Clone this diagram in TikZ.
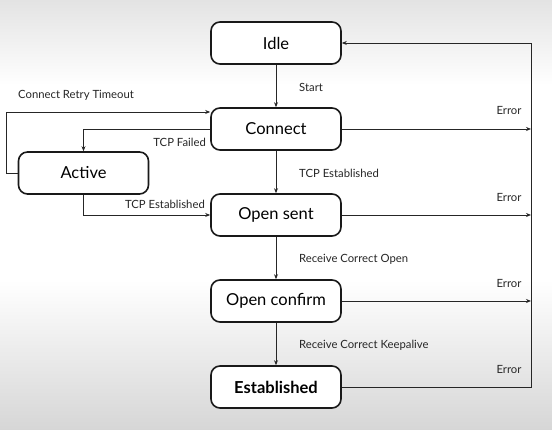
\documentclass[tikz,border=0pt]{standalone}
\usepackage{fontspec}
\setmainfont{Lato}
\usetikzlibrary{arrows.meta}
\begin{document}
\begin{tikzpicture}[x=1pt,y=1pt,
  state/.style={draw=black!90, line width=1.6pt, rounded corners=9pt, fill=white,
    minimum width=130pt, minimum height=42pt, inner sep=0pt, font=\fontsize{16.5}{19}\selectfont},
  conn/.style={draw=black!85, line width=0.8pt},
  arr/.style={conn, -{Stealth[length=5pt,width=4pt]}},
  lbl/.style={font=\fontsize{11.3}{13}\selectfont, text=black!85, inner sep=0pt}]
% background
\useasboundingbox (0,0) rectangle (552,430);
\shade[top color=black!11, bottom color=white] (0,430) rectangle (552,345);
\fill[white] (0,345) rectangle (552,150);
\shade[top color=white, bottom color=black!16] (0,150) rectangle (552,0);
% states
\node[state] (idle) at (276,387) {Idle};
\node[state] (connect) at (276,301) {Connect};
\node[state] (active) at (83.5,257) {Active};
\node[state] (opensent) at (276,215) {Open sent};
\node[state] (openconfirm) at (276,129) {Open confirm};
\node[state, font=\fontsize{16.5}{19}\selectfont\bfseries] (established) at (276,43) {Established};
% right bus
\coordinate (rtop) at (531,387);
\coordinate (rbot) at (531,43);
\draw[arr] (established.east) -- (rbot) -- (rtop) -- (idle.east);
\draw[arr] (connect.east) -- (connect.east -| rtop);
\draw[arr] (opensent.east) -- (opensent.east -| rtop);
\draw[arr] (openconfirm.east) -- (openconfirm.east -| rtop);
\node[lbl] (e1) at (509,320) {Error};
\node[lbl] (e2) at (509,233) {Error};
\node[lbl] (e3) at (509,147) {Error};
\node[lbl] (e4) at (509,61) {Error};
% vertical transitions
\draw[arr] (idle) -- (connect);
\draw[arr] (connect) -- (opensent);
\draw[arr] (opensent) -- (openconfirm);
\draw[arr] (openconfirm) -- (established);
\node[lbl, anchor=west] (l1) at (299,343) {Start};
\node[lbl, anchor=west] (l2) at (299,257) {TCP Established};
\node[lbl, anchor=west] (l3) at (299,171) {Receive Correct Open};
\node[lbl, anchor=west] (l4) at (299,85) {Receive Correct Keepalive};
% active transitions
\coordinate (retry1) at (6,257);
\coordinate (retry2) at (6,318);
\draw[arr] (active.west) -- (retry1) -- (retry2) -- (retry2 -| connect.west);
\node[lbl, anchor=west] (l5) at (18,335) {Connect Retry Timeout};
\coordinate (fail) at (83.5,301);
\draw[arr] (connect.west) -- (fail) -- (active.north);
\node[lbl, anchor=east] (l6) at (206,288) {TCP Failed};
\coordinate (est) at (83.5,215);
\draw[arr] (active.south) -- (est) -- (opensent.west);
\node[lbl, anchor=east] (l7) at (205,226) {TCP Established};
\end{tikzpicture}
\end{document}
